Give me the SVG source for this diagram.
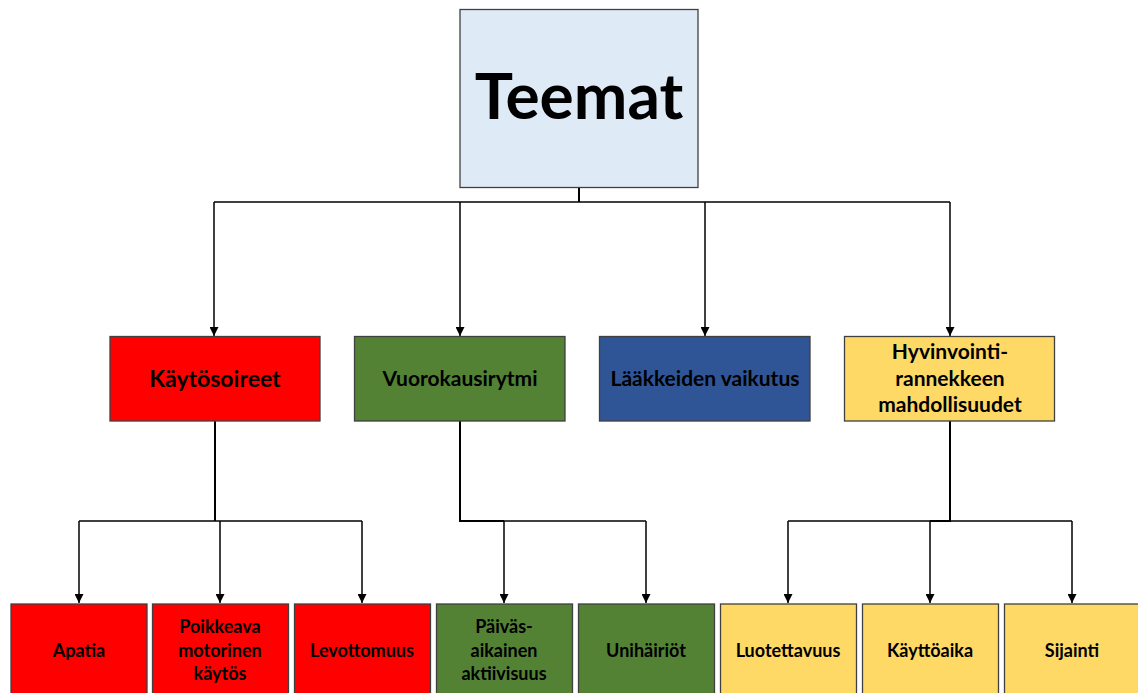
<svg xmlns="http://www.w3.org/2000/svg" width="1138" height="693" viewBox="0 0 1138 693">
<style>
.box{stroke:#404040;stroke-width:1.3}
.t{font-family:Lato,"Open Sans",sans-serif;font-weight:bold;fill:#000;text-anchor:middle}
.l2{font-size:21px}
.l3{font-size:18px}
.c{fill:none;stroke:#000;stroke-width:1.5}
.s{fill:none;stroke:#000;stroke-width:2}
</style>
<defs>
<marker id="ah" viewBox="0 0 10 10" refX="10" refY="5" markerWidth="9" markerHeight="9" markerUnits="userSpaceOnUse" orient="auto">
<path d="M0,0 L10,5 L0,10 Z" fill="#000"/>
</marker>
</defs>
<rect width="1138" height="693" fill="#fff"/>
<g id="connectors">
<path class="s" d="M579,188 V202"/>
<path class="c" d="M214,202 H950"/>
<path class="c" d="M214,202 V336" marker-end="url(#ah)"/>
<path class="c" d="M460,202 V336" marker-end="url(#ah)"/>
<path class="c" d="M705,202 V336" marker-end="url(#ah)"/>
<path class="c" d="M950,202 V336" marker-end="url(#ah)"/>
<path class="s" d="M215,421 V521"/>
<path class="c" d="M79,521 H362"/>
<path class="c" d="M79,521 V603" marker-end="url(#ah)"/>
<path class="c" d="M220,521 V603" marker-end="url(#ah)"/>
<path class="c" d="M362,521 V603" marker-end="url(#ah)"/>
<path class="s" d="M460,421 V521 H504"/>
<path class="c" d="M504,521 H646"/>
<path class="c" d="M504,521 V603" marker-end="url(#ah)"/>
<path class="c" d="M646,521 V603" marker-end="url(#ah)"/>
<path class="s" d="M950,421 V521 H930"/>
<path class="c" d="M788,521 H1072"/>
<path class="c" d="M788,521 V603" marker-end="url(#ah)"/>
<path class="c" d="M930,521 V603" marker-end="url(#ah)"/>
<path class="c" d="M1072,521 V603" marker-end="url(#ah)"/>
</g>
<g id="teemat">
<rect class="box" x="460" y="9.5" width="238" height="178" fill="#DEEBF7"/>
<text class="t" x="579" y="119" font-size="64">Teemat</text>
</g>
<g id="kaytosoireet">
<rect class="box" x="110" y="336.5" width="210" height="84.5" fill="#FF0000"/>
<text class="t" x="215" y="387" font-size="23">Käytösoireet</text>
</g>
<g id="vuorokausirytmi">
<rect class="box" x="354.5" y="336.5" width="210.5" height="84.5" fill="#548235"/>
<text class="t l2" x="460" y="386">Vuorokausirytmi</text>
</g>
<g id="laakkeiden">
<rect class="box" x="599.5" y="336.5" width="210.5" height="84.5" fill="#2F5597"/>
<text class="t l2" x="705" y="386">Lääkkeiden vaikutus</text>
</g>
<g id="hyvinvointi">
<rect class="box" x="844.5" y="336.5" width="210" height="84.5" fill="#FFD966"/>
<text class="t l2" x="950" y="359">Hyvinvointi-</text>
<text class="t l2" x="950" y="385.5">rannekkeen</text>
<text class="t l2" x="950" y="412">mahdollisuudet</text>
</g>
<g id="apatia">
<rect class="box" x="11" y="604" width="136" height="100" fill="#FF0000"/>
<text class="t l3" x="79" y="657">Apatia</text>
</g>
<g id="poikkeava">
<rect class="box" x="152.5" y="604" width="136" height="100" fill="#FF0000"/>
<text class="t l3" x="220" y="633">Poikkeava</text>
<text class="t l3" x="220" y="657">motorinen</text>
<text class="t l3" x="220" y="680">käytös</text>
</g>
<g id="levottomuus">
<rect class="box" x="294.5" y="604" width="136" height="100" fill="#FF0000"/>
<text class="t l3" x="362" y="657">Levottomuus</text>
</g>
<g id="paivas">
<rect class="box" x="436.5" y="604" width="136" height="100" fill="#548235"/>
<text class="t l3" x="504" y="633">Päiväs-</text>
<text class="t l3" x="504" y="657">aikainen</text>
<text class="t l3" x="504" y="680">aktiivisuus</text>
</g>
<g id="unihairiot">
<rect class="box" x="578.5" y="604" width="136" height="100" fill="#548235"/>
<text class="t l3" x="646" y="657">Unihäiriöt</text>
</g>
<g id="luotettavuus">
<rect class="box" x="720.5" y="604" width="136" height="100" fill="#FFD966"/>
<text class="t l3" x="788" y="657">Luotettavuus</text>
</g>
<g id="kayttoaika">
<rect class="box" x="862.5" y="604" width="136" height="100" fill="#FFD966"/>
<text class="t l3" x="930" y="657">Käyttöaika</text>
</g>
<g id="sijainti">
<rect class="box" x="1004.5" y="604" width="136" height="100" fill="#FFD966"/>
<text class="t l3" x="1072" y="657">Sijainti</text>
</g>
</svg>
